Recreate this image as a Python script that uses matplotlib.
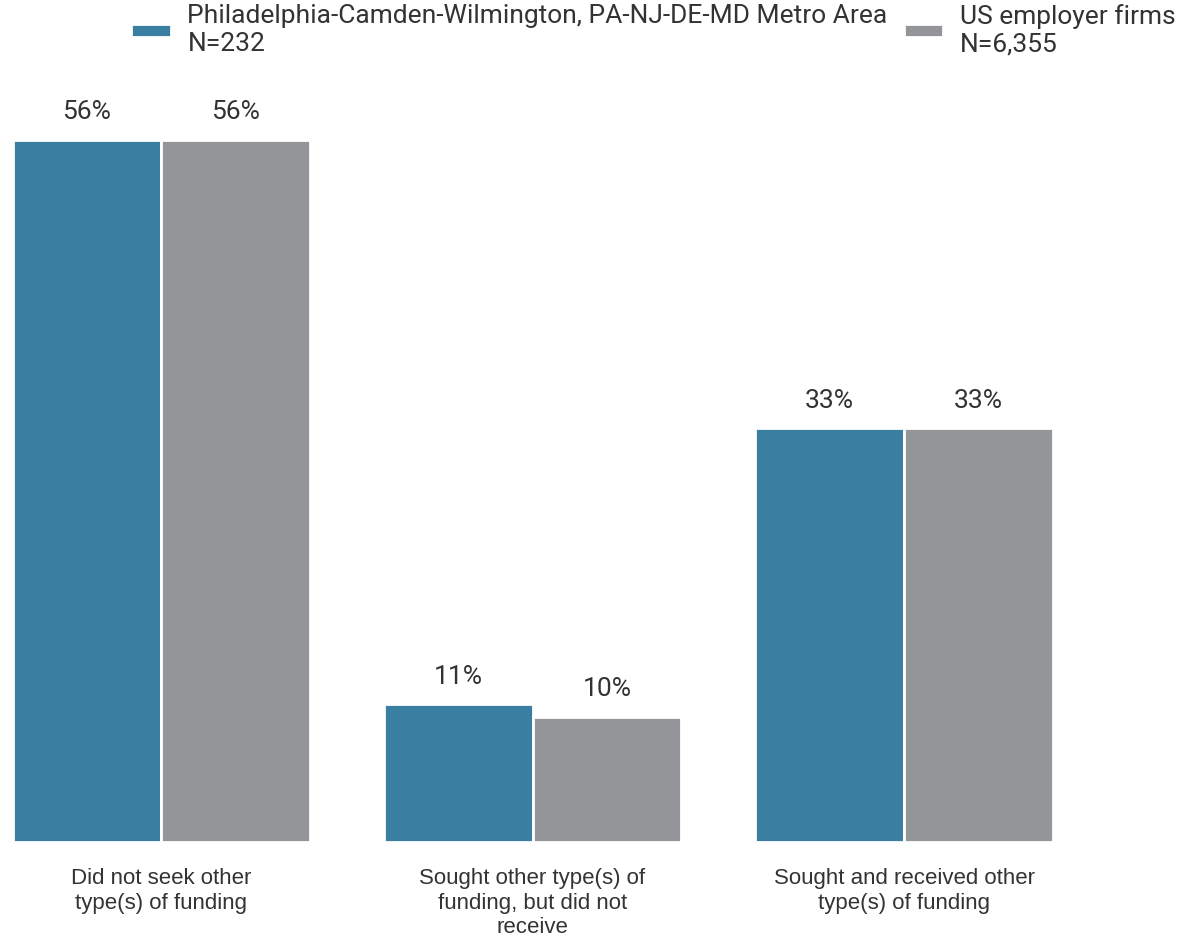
import matplotlib
matplotlib.use("Agg")
import matplotlib.pyplot as plt
import numpy as np

categories = ["Did not seek other\ntype(s) of funding",
              "Sought other type(s) of\nfunding, but did not\nreceive",
              "Sought and received other\ntype(s) of funding"]
metro = [56, 11, 33]
us = [56, 10, 33]
labels = ["Philadelphia-Camden-Wilmington, PA-NJ-DE-MD Metro Area\nN=232",
          "US employer firms\nN=6,355"]
colors = ["#3a7ea1", "#939598"]
text_color = "#333333"

fig = plt.figure(figsize=(11.94, 9.36), dpi=100)
# axes placed so that group spacing and baseline match the reference
ax = fig.add_axes([14 / 1194, 94 / 936, 1166 / 1194, 752.4 / 936])
x = np.arange(len(categories))
w = 0.4
b1 = ax.bar(x - w / 2, metro, w, color=colors[0], edgecolor="white",
            linewidth=2, label=labels[0])
b2 = ax.bar(x + w / 2, us, w, color=colors[1], edgecolor="white",
            linewidth=2, label=labels[1])
for bars in (b1, b2):
    ax.bar_label(bars, labels=[f"{v}%" for v in bars.datavalues], padding=11,
                 fontsize=19, family="Roboto", color=text_color)

ax.set_xlim(-0.396, 2.743)
ax.set_ylim(0, 60)
ax.set_yticks([])
ax.set_xticks(x)
ax.set_xticklabels(categories, fontsize=16, family="Liberation Sans",
                   color=text_color)
ax.tick_params(axis="x", length=0, pad=19)
for s in ax.spines.values():
    s.set_visible(False)

fig.legend(loc="upper left", bbox_to_anchor=(131 / 1194, 1 - 4 / 936),
           ncol=2, frameon=False, borderpad=0, borderaxespad=0,
           handlelength=1.5, handleheight=0.38, handletextpad=0.64,
           columnspacing=0.6,
           prop={"family": "Roboto", "size": 19}, labelcolor=text_color)

fig.savefig("out.png", dpi=100)
